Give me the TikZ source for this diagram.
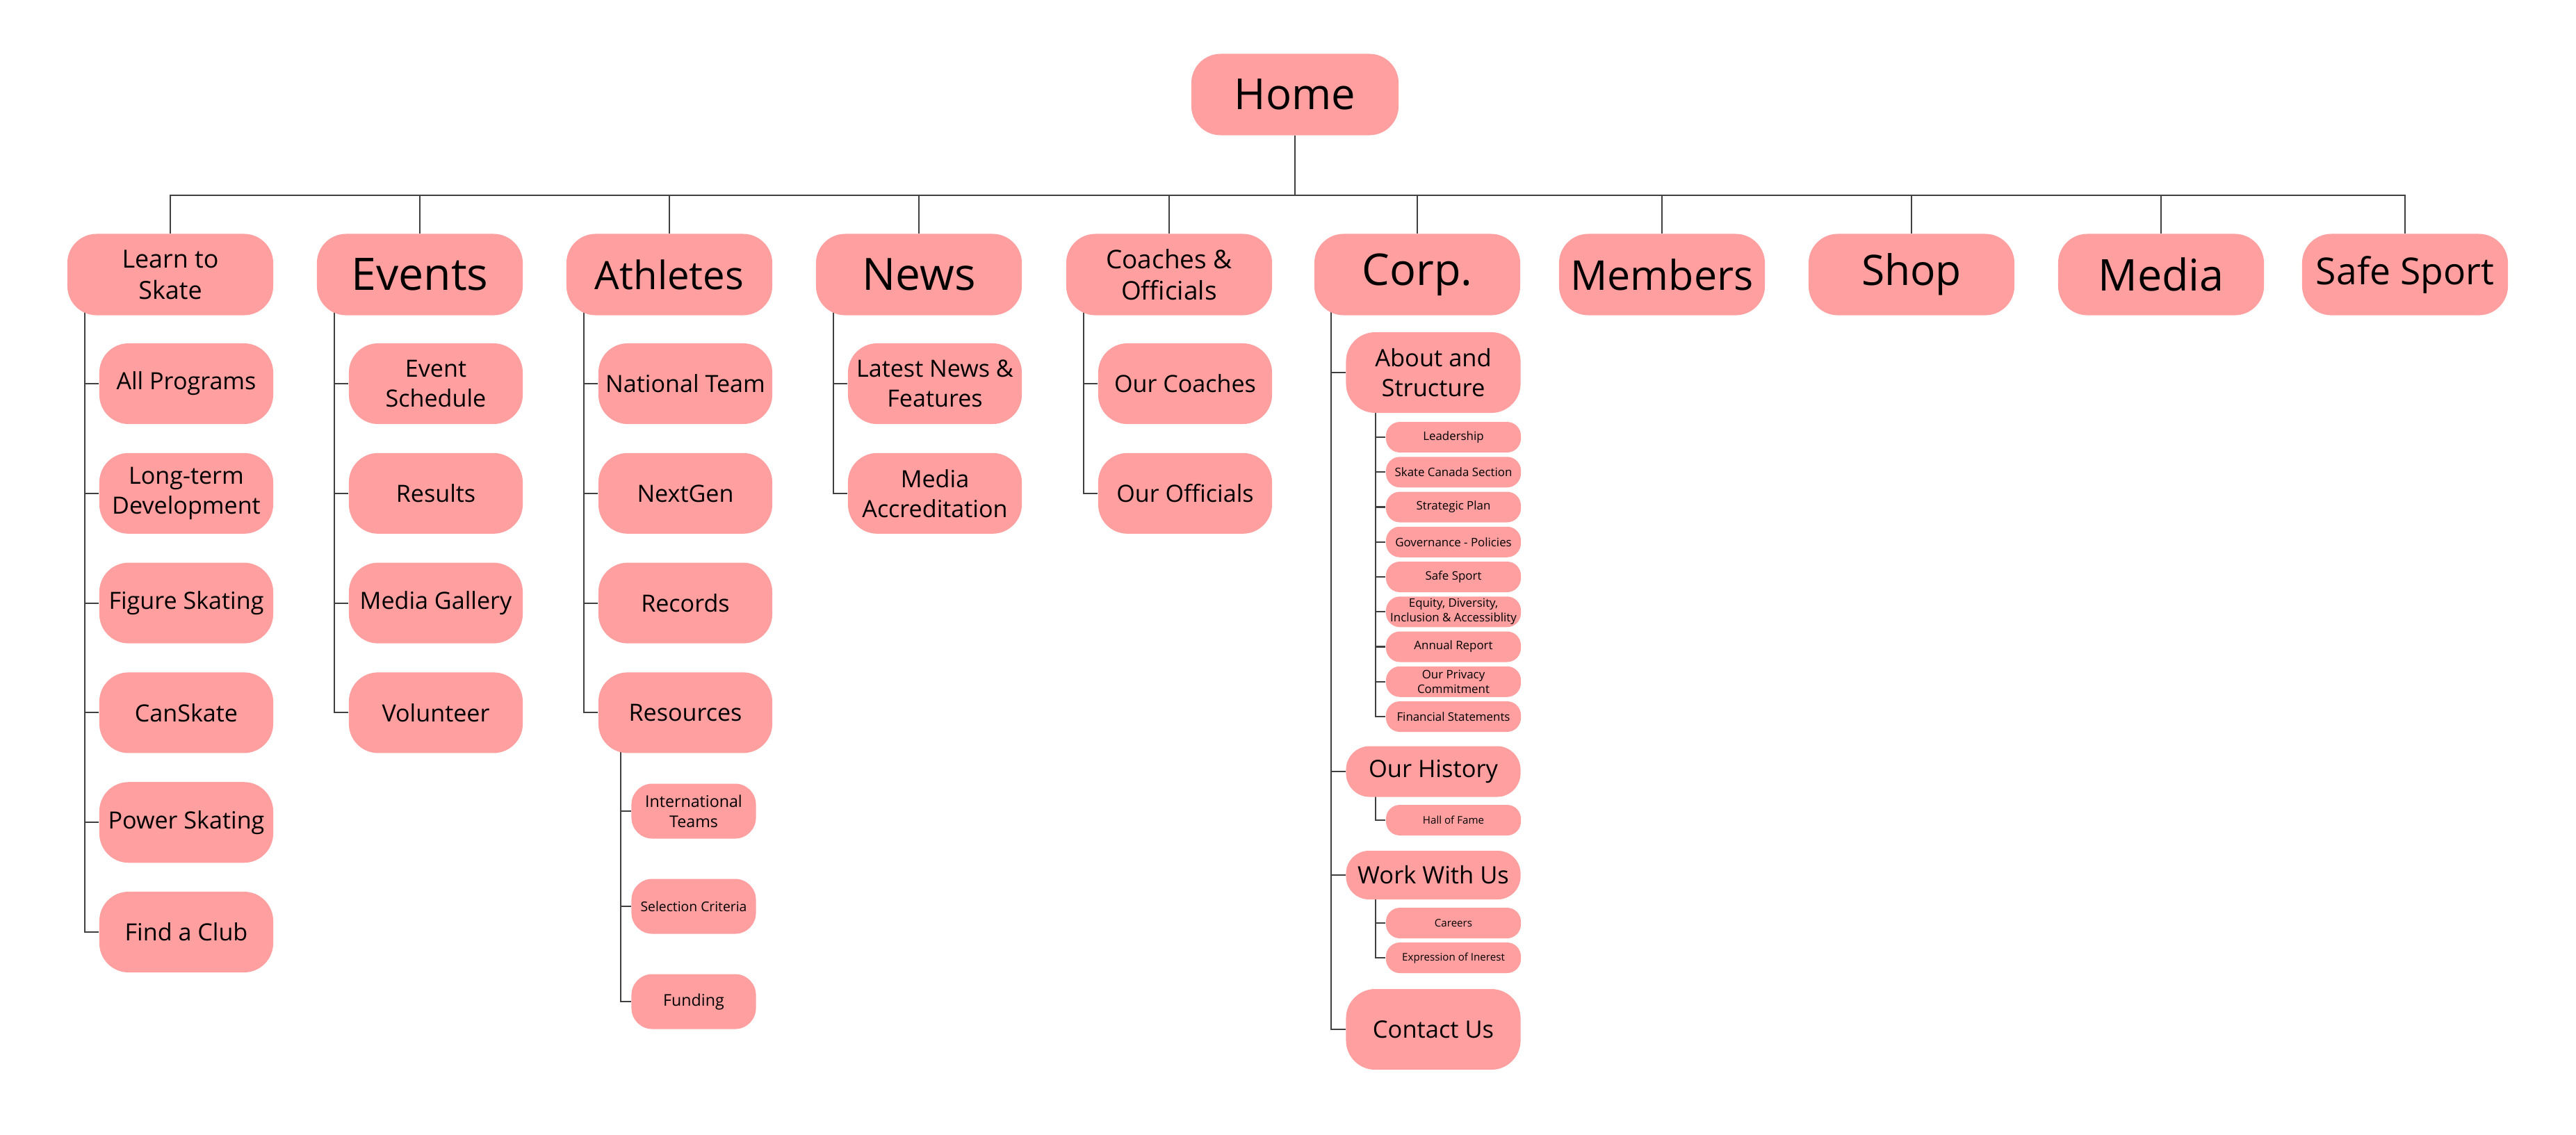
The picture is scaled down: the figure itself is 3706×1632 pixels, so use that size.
\documentclass[tikz,border=0pt]{standalone}
\usepackage{fontspec}
\setmainfont{Open Sans}
\usetikzlibrary{backgrounds}
\definecolor{boxpink}{HTML}{FF9F9F}
\tikzset{
  box/.style={fill=boxpink, align=center, inner sep=0pt, rounded corners=0.42cm},
  fs/.style 2 args={font=\fontsize{#1}{#2}\selectfont},
  topbox/.style={box, minimum width=2.96cm, minimum height=1.17cm},
  subbox/.style={box, minimum width=2.5cm, minimum height=1.16cm, fs={9.7}{12.2}},
  corpbox/.style={box, minimum width=2.51cm, fs={9.8}{12.2}},
  resbox/.style={box, minimum width=1.79cm, minimum height=0.79cm, rounded corners=0.3cm},
  leafbox/.style={box, minimum width=1.94cm, minimum height=0.44cm, rounded corners=0.2cm, fs={4.8}{6}},
  link/.style={draw=black!75, line width=0.6pt},
}
\begin{document}
\begin{tikzpicture}[x=0.01cm, y=-0.01cm]
  \useasboundingbox (0,0) rectangle (3706,1632);
  % home and top row
  \node[topbox, minimum width=2.98cm, fs={17.5}{21}] (home) at (1863,136) {Home};
  \coordinate (bus) at (1863,281);
  \node[topbox, fs={10.2}{12.8}] (learn) at (245,395) {Learn to\\Skate};
  \node[topbox, fs={18.3}{22}] (events) at (604,395) {Events};
  \node[topbox, fs={16}{20}] (athletes) at (963,395) {Athletes};
  \node[topbox, fs={18.2}{22}] (news) at (1322,395) {News};
  \node[topbox, fs={10.5}{13}] (coaches) at (1682,395) {Coaches \&\\Officials};
  \node[topbox, fs={17.9}{22}] (corp) at (2039,395) {Corp.};
  \node[topbox, fs={16.8}{20}] (members) at (2391,395) {Members};
  \node[topbox, fs={17.2}{21}] (shop) at (2750,395) {Shop};
  \node[topbox, fs={17.9}{22}] (media) at (3109,395) {Media};
  \node[topbox, fs={15.2}{19}] (safesport) at (3460,395) {Safe Sport};

  % second level
  \foreach \c/\t [count=\i from 0] in {allprog/All Programs, longterm/{Long-term\\Development}, figure/Figure Skating, canskate/CanSkate, power/Power Skating, club/Find a Club}
    \node[subbox] (\c) at (268,{552+157.8*\i}) {\t};
  \foreach \c/\t [count=\i from 0] in {schedule/{Event\\Schedule}, results/Results, gallery/Media Gallery, volunteer/Volunteer}
    \node[subbox] (\c) at (627,{552+157.8*\i}) {\t};
  \foreach \c/\t [count=\i from 0] in {national/National Team, nextgen/NextGen, records/Records, resources/Resources}
    \node[subbox] (\c) at (986,{552+157.8*\i}) {\t};
  \foreach \c/\t [count=\i from 0] in {latest/{Latest News \&\\Features}, accred/{Media\\Accreditation}}
    \node[subbox] (\c) at (1345,{552+157.8*\i}) {\t};
  \foreach \c/\t [count=\i from 0] in {ourcoaches/Our Coaches, officials/Our Officials}
    \node[subbox] (\c) at (1705,{552+157.8*\i}) {\t};

  % resources
  \node[resbox, fs={6.6}{8.2}] (intl) at (998,1167) {International\\Teams};
  \node[resbox, fs={5.5}{7}] (selection) at (998,1304) {Selection Criteria};
  \node[resbox, fs={6.6}{8.2}] (funding) at (998,1441) {Funding};

  % corp.
  \node[corpbox, minimum height=1.16cm] (about) at (2062,536) {About and\\Structure};
  \node[corpbox, minimum height=0.73cm, rounded corners=0.34cm] (history) at (2062,1110) {Our History};
  \node[corpbox, minimum height=0.70cm, rounded corners=0.33cm] (work) at (2062,1259) {Work With Us};
  \node[corpbox, minimum height=1.16cm] (contact) at (2062,1481) {Contact Us};
  \foreach \c/\t [count=\i from 0] in {leader/Leadership, section/Skate Canada Section, strategic/Strategic Plan, governance/Governance - Policies, safe/Safe Sport, equity/{Equity, Diversity,\\Inclusion \& Accessiblity}, annual/Annual Report, privacy/{Our Privacy\\Commitment}, financial/Financial Statements}
    \node[leafbox] (\c) at (2091,{629+50.25*\i}) {\t};
  \node[leafbox, fs={4.3}{5.5}] (fame) at (2091,1180) {Hall of Fame};
  \node[leafbox, fs={4.3}{5.5}] (careers) at (2091,1328) {Careers};
  \node[leafbox, fs={4.3}{5.5}] (interest) at (2091,1378) {Expression of Inerest};

  % connectors
  \begin{scope}[on background layer]
    \draw[link] (home.south) -- (bus);
    \foreach \t in {learn,events,athletes,news,coaches,corp,members,shop,media,safesport}
      \draw[link] (\t.north) |- (bus);
    \foreach \c in {allprog,longterm,figure,canskate,power,club}
      \draw[link] ([xshift=0.26cm]learn.west) |- (\c.west);
    \foreach \c in {schedule,results,gallery,volunteer}
      \draw[link] ([xshift=0.26cm]events.west) |- (\c.west);
    \foreach \c in {national,nextgen,records,resources}
      \draw[link] ([xshift=0.26cm]athletes.west) |- (\c.west);
    \foreach \c in {latest,accred}
      \draw[link] ([xshift=0.26cm]news.west) |- (\c.west);
    \foreach \c in {ourcoaches,officials}
      \draw[link] ([xshift=0.26cm]coaches.west) |- (\c.west);
    \foreach \c in {intl,selection,funding}
      \draw[link] ([xshift=0.33cm]resources.west) |- (\c.west);
    \foreach \c in {about,history,work,contact}
      \draw[link] ([xshift=0.25cm]corp.west) |- (\c.west);
    \foreach \c in {leader,section,strategic,governance,safe,equity,annual,privacy,financial}
      \draw[link] ([xshift=0.43cm]about.west) |- (\c.west);
    \draw[link] ([xshift=0.43cm]history.west) |- (fame.west);
    \foreach \c in {careers,interest}
      \draw[link] ([xshift=0.43cm]work.west) |- (\c.west);
  \end{scope}
\end{tikzpicture}
\end{document}
